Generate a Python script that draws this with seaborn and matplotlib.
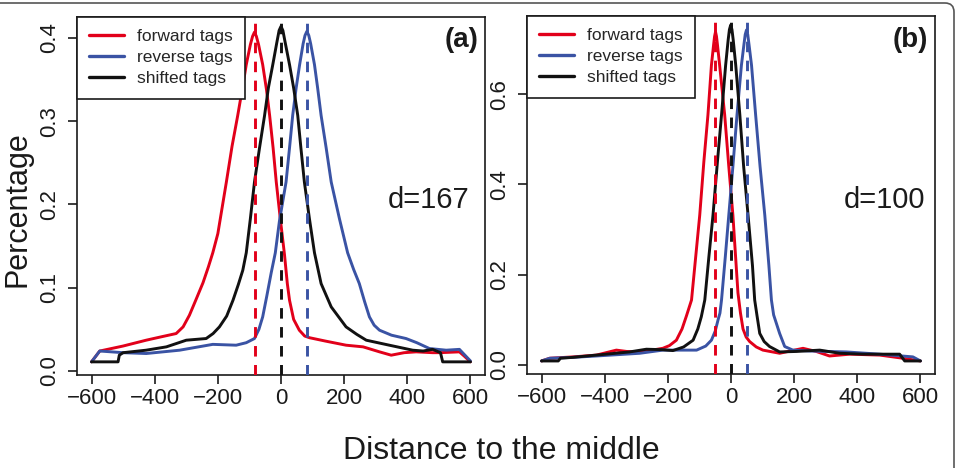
import numpy as np
import pandas as pd
import matplotlib
matplotlib.use("Agg")
import matplotlib.pyplot as plt
import seaborn as sns
from matplotlib.patches import FancyBboxPatch

# ---------------- data ----------------
# Panel (a)
a_fwd_x = [-600, -574, -500, -427, -380, -332, -310, -290, -270, -247, -230, -216, -200, -173, -155,
           -137, -122, -110, -97, -90, -84, -78, -71, -58, -46, -36, -25, -15, -2, 11, 20, 27, 40, 58,
           75, 90, 140, 206, 260, 312, 349, 390, 428, 480, 502, 565, 580, 600]
a_fwd_y = [0.011, 0.024, 0.030, 0.037, 0.041, 0.045, 0.053, 0.067, 0.085, 0.106, 0.125, 0.142, 0.165,
           0.227, 0.270, 0.307, 0.340, 0.368, 0.392, 0.402, 0.407, 0.402, 0.392, 0.368, 0.338, 0.307,
           0.268, 0.227, 0.182, 0.140, 0.105, 0.085, 0.062, 0.049, 0.042, 0.040, 0.036, 0.031, 0.029,
           0.023, 0.019, 0.022, 0.023, 0.022, 0.022, 0.023, 0.018, 0.011]

a_rev_x = [-600, -574, -500, -427, -321, -216, -142, -110, -84, -70, -58, -45, -31, -18, -5, 16, 27,
           37, 48, 59, 70, 76, 82, 88, 94, 106, 116, 127, 143, 159, 185, 211, 230, 248, 265, 280, 295,
           312, 350, 396, 430, 470, 523, 565, 580, 600]
a_rev_y = [0.011, 0.024, 0.022, 0.021, 0.025, 0.032, 0.031, 0.034, 0.039, 0.050, 0.065, 0.090, 0.118,
           0.142, 0.180, 0.227, 0.268, 0.307, 0.340, 0.368, 0.393, 0.403, 0.408, 0.403, 0.393, 0.368,
           0.340, 0.307, 0.268, 0.227, 0.183, 0.142, 0.122, 0.105, 0.083, 0.065, 0.055, 0.049, 0.043,
           0.039, 0.034, 0.027, 0.025, 0.026, 0.020, 0.012]

a_sft_x = [-600, -516, -512, -500, -427, -363, -300, -237, -215, -195, -172, -152, -135, -121, -110,
           -97, -84, -68, -52, -40, -26, -13, -6, 0, 6, 13, 27, 40, 53, 63, 74, 90, 106, 127, 159, 206,
           240, 270, 343, 417, 450, 480, 505, 512, 600]
a_sft_y = [0.011, 0.011, 0.019, 0.022, 0.025, 0.029, 0.037, 0.039, 0.045, 0.053, 0.066, 0.085, 0.104,
           0.121, 0.142, 0.183, 0.227, 0.268, 0.307, 0.340, 0.368, 0.395, 0.409, 0.414, 0.409, 0.395,
           0.368, 0.340, 0.307, 0.268, 0.227, 0.183, 0.142, 0.105, 0.077, 0.053, 0.044, 0.037, 0.031,
           0.025, 0.024, 0.026, 0.022, 0.011, 0.011]

# Panel (b)
b_fwd_x = [-600, -574, -500, -426, -363, -330, -289, -250, -216, -195, -173, -155, -141, -125, -112,
           -99, -86, -73, -62, -55, -52, -49, -46, -43, -36, -20, -7, 6, 15, 22, 30, 38, 48, 59, 80,
           101, 154, 228, 270, 312, 376, 471, 544, 600]
b_fwd_y = [0.009, 0.015, 0.018, 0.022, 0.033, 0.030, 0.029, 0.033, 0.037, 0.043, 0.055, 0.080, 0.109,
           0.144, 0.238, 0.332, 0.450, 0.554, 0.664, 0.710, 0.728, 0.738, 0.728, 0.710, 0.664, 0.554,
           0.440, 0.332, 0.235, 0.160, 0.115, 0.080, 0.062, 0.052, 0.040, 0.033, 0.026, 0.037, 0.030,
           0.020, 0.024, 0.022, 0.015, 0.009]

b_rev_x = [-600, -574, -500, -426, -289, -216, -109, -80, -62, -50, -41, -35, -30, -18, -7, 6, 19, 33,
           41, 45, 49, 53, 57, 65, 78, 92, 107, 120, 128, 135, 154, 170, 196, 250, 365, 471, 576, 600]
b_rev_y = [0.009, 0.015, 0.017, 0.020, 0.026, 0.033, 0.033, 0.042, 0.055, 0.075, 0.100, 0.115, 0.144,
           0.240, 0.332, 0.440, 0.554, 0.664, 0.710, 0.732, 0.742, 0.732, 0.710, 0.664, 0.554, 0.440,
           0.332, 0.220, 0.144, 0.111, 0.070, 0.041, 0.033, 0.031, 0.029, 0.024, 0.018, 0.009]

b_sft_x = [-600, -547, -540, -500, -426, -321, -268, -220, -184, -150, -120, -105, -94, -83, -70, -57,
           -43, -30, -17, -9, -5, -1, 3, 7, 15, 28, 40, 54, 68, 75, 82, 91, 105, 122, 154, 207, 281,
           344, 418, 534, 550, 600]
b_sft_y = [0.009, 0.009, 0.015, 0.017, 0.022, 0.029, 0.035, 0.034, 0.032, 0.040, 0.055, 0.080, 0.107,
           0.144, 0.240, 0.332, 0.450, 0.554, 0.664, 0.720, 0.743, 0.753, 0.743, 0.720, 0.664, 0.554,
           0.440, 0.332, 0.220, 0.144, 0.111, 0.070, 0.052, 0.041, 0.029, 0.030, 0.033, 0.026, 0.024,
           0.024, 0.009, 0.009]

series_labels = ["forward tags", "reverse tags", "shifted tags"]
series_colors = ["#E2001A", "#3A53A4", "#111111"]
a_peaks = [-83.5, 83.5, 0]   # forward, reverse, shifted
b_peaks = [-50, 50, 0]
x_ticks = [-600, -400, -200, 0, 200, 400, 600]
a_yticks = [0.0, 0.1, 0.2, 0.3, 0.4]
b_yticks = [0.0, 0.2, 0.4, 0.6]
panel_tags = ["(a)", "(b)"]
d_texts = ["d=167", "d=100"]

# ---------------- style ----------------
sns.set_style("ticks")
plt.rcParams["font.family"] = ["Liberation Sans", "DejaVu Sans"]
plt.rcParams["axes.linewidth"] = 1.2

W, H = 957, 468
fig = plt.figure(figsize=(W / 100, H / 100), dpi=100)

ax1 = fig.add_axes([77 / W, (H - 375) / H, 408 / W, 358 / H])
ax2 = fig.add_axes([527 / W, (H - 374) / H, 408 / W, 358 / H])

panels = [
    (ax1, [(a_fwd_x, a_fwd_y), (a_rev_x, a_rev_y), (a_sft_x, a_sft_y)], a_peaks, a_yticks,
     (-0.0048, 0.4252), (0.963, 0.489), (0.983, 0.936)),
    (ax2, [(b_fwd_x, b_fwd_y), (b_rev_x, b_rev_y), (b_sft_x, b_sft_y)], b_peaks, b_yticks,
     (-0.0199, 0.773), (0.975, 0.486), (0.983, 0.932)),
]

for i, (ax, series, peaks, yt, ylim, dpos, tpos) in enumerate(panels):
    for (xs, ys), lab, col in zip(series, series_labels, series_colors):
        df = pd.DataFrame({"x": xs, "y": ys})
        sns.lineplot(data=df, x="x", y="y", ax=ax, color=col, lw=2.1, label=lab,
                     estimator=None, sort=False)
    for p, col in zip(peaks, series_colors):
        ax.axvline(p, color=col, lw=2.1, linestyle=(0, (3.6, 2.9)), zorder=3)
    ax.set_xlim(-646, 646)
    ax.set_ylim(*ylim)
    ax.set_xticks(x_ticks)
    ax.set_xticklabels([("\u2212" + str(-t)) if t < 0 else str(t) for t in x_ticks])
    ax.set_yticks(yt)
    ax.set_yticklabels([f"{v:.1f}" for v in yt], rotation=90, va="center")
    ax.tick_params(axis="both", labelsize=16, length=6.5, width=1.2, colors="#1a1a1a")
    ax.tick_params(axis="x", pad=3.0)
    ax.tick_params(axis="y", pad=5.5)
    ax.set_xlabel("")
    ax.set_ylabel("")
    for s in ax.spines.values():
        s.set_visible(True)
        s.set_color("#1a1a1a")
    leg = ax.legend(loc="upper left", bbox_to_anchor=(0, 1), borderaxespad=0,
                    fontsize=12.5, frameon=True, fancybox=False, edgecolor="#1a1a1a",
                    framealpha=1, borderpad=0.7, labelspacing=0.34, handlelength=2.0,
                    handletextpad=0.75)
    leg.get_frame().set_linewidth(1.2)
    for h in leg.get_lines():
        h.set_linewidth(2.4)
    ax.text(*dpos, d_texts[i], transform=ax.transAxes, ha="right", va="center",
            fontsize=21, color="#1a1a1a")
    ax.text(*tpos, panel_tags[i], transform=ax.transAxes, ha="right", va="center",
            fontsize=20, fontweight="bold", color="#1a1a1a")

fig.text(18 / W, 1 - 209 / H, "Percentage", rotation=90, ha="center", va="center",
         fontsize=22, color="#1a1a1a")
fig.text(501.7 / W, 1 - 459 / H, "Distance to the middle", ha="center", va="baseline",
         fontsize=23, color="#1a1a1a")

border = FancyBboxPatch((-20, -20), 974, 485, boxstyle="round,pad=0,rounding_size=9",
                        transform=None, fill=False, edgecolor="#555555", lw=1.2)
fig.add_artist(border)

fig.savefig("out.png", dpi=100)
